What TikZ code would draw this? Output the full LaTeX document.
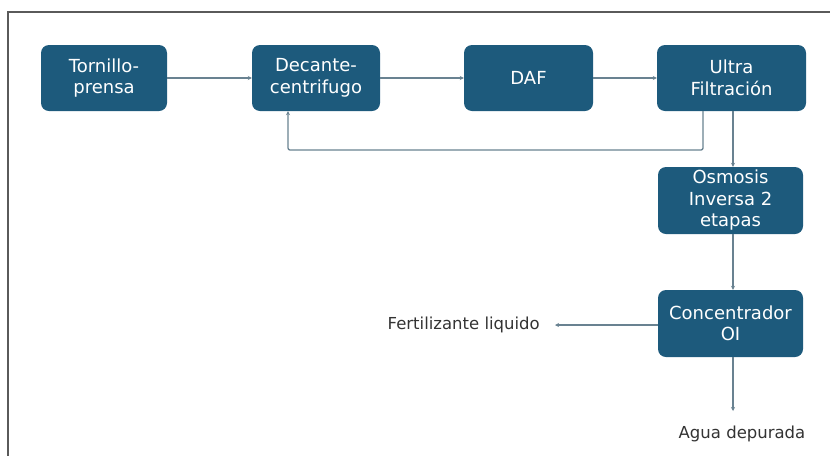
\documentclass[tikz,border=0pt]{standalone}
\usepackage{fontspec}
\setmainfont{DejaVu Sans}
\usetikzlibrary{arrows.meta}
\definecolor{boxblue}{RGB}{29,90,124}
\definecolor{linec}{RGB}{105,130,145}
\definecolor{framec}{RGB}{90,90,90}
\begin{document}
\begin{tikzpicture}[x=1pt,y=-1pt,
  procbox/.style={draw=none,fill=boxblue,rounded corners=8pt,text=white,align=center,
    font=\fontsize{18}{21.5}\selectfont,inner sep=0pt},
  conn/.style={draw=linec,line width=1.3pt,-{Stealth[length=4pt,width=4pt]}},
  outlabel/.style={font=\fontsize{16.5}{19}\selectfont,text=black!80,inner sep=0pt}]
\useasboundingbox (0,0) rectangle (830,456);
\draw[framec,line width=1.2pt] (830,12) -- (8,12) -- (8,456);
\node[procbox,minimum width=126pt,minimum height=66pt] (tp) at (104,78) {Tornillo-\\prensa};
\node[procbox,minimum width=128pt,minimum height=66pt] (dc) at (316,78) {Decante-\\centrifugo};
\node[procbox,minimum width=129pt,minimum height=66pt] (daf) at (528.5,78) {DAF};
\node[procbox,minimum width=149pt,minimum height=66pt] (uf) at (731.5,78) {Ultra\\Filtración};
\node[procbox,minimum width=145pt,minimum height=67pt] (oi) at (730.5,200.5) {Osmosis\\Inversa 2\\etapas};
\node[procbox,minimum width=145pt,minimum height=67pt] (co) at (730.5,323.5) {Concentrador\\OI};
\node[outlabel,anchor=east] (fl) at (540,325) {Fertilizante liquido};
\node[outlabel,anchor=north] (ad) at (742,426) {Agua depurada};
\coordinate (flend) at (555,325);
\coordinate (adend) at (733,411);
\draw[conn] (tp.east) -- (dc.west);
\draw[conn] (dc.east) -- (daf.west);
\draw[conn] (daf.east) -- (uf.west);
\draw[conn,rounded corners=2pt] ([xshift=-28.5pt]uf.south) |- (288,150) -- ([xshift=-28pt]dc.south);
\draw[conn] ([xshift=1.5pt]uf.south) -- ([xshift=2.5pt]oi.north);
\draw[conn] ([xshift=2.5pt]oi.south) -- ([xshift=2.5pt]co.north);
\draw[conn] (co.west |- flend) -- (flend);
\draw[conn] ([xshift=2.5pt]co.south) -- (adend);
\end{tikzpicture}
\end{document}
